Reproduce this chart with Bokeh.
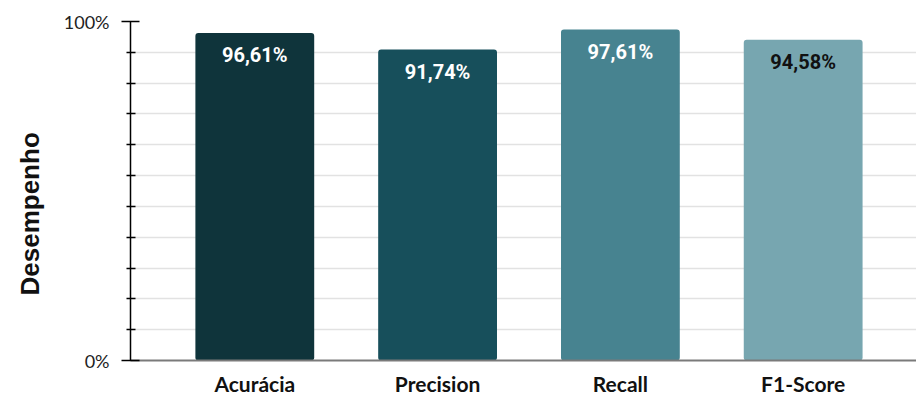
from bokeh.core.properties import value
from bokeh.embed import file_html
from bokeh.models import ColumnDataSource, FixedTicker, Range1d, Title
from bokeh.plotting import figure
from bokeh.resources import INLINE

# Model performance metrics (percent)
metrics = ["Acurácia", "Precision", "Recall", "F1-Score"]
scores = [96.61, 91.74, 97.61, 94.58]

# y-axis labels and tick grid
y_tick_labels = {0: "0%", 100: "100%"}
y_minor_steps = 11

bar_colors = ["#0f343b", "#174f5b", "#478390", "#77a6b0"]
text_colors = ["#ffffff", "#ffffff", "#ffffff", "#111111"]

xs = [i + 0.5 for i in range(len(metrics))]
labels = [f"{v:.2f}%".replace(".", ",") for v in scores]

source = ColumnDataSource(dict(
    x=xs, top=scores, color=bar_colors, label=labels, tcolor=text_colors,
))

p = figure(
    width=916, height=399,
    output_backend="svg", toolbar_location=None,
    x_range=Range1d(-0.18, 4.12),
    y_range=Range1d(0, 100),
    min_border_left=129, min_border_right=0,
    min_border_top=21, min_border_bottom=39,
)
p.outline_line_color = None
p.background_fill_color = "white"
p.border_fill_color = "white"

# bars
p.vbar(x="x", top="top", width=0.65, bottom=0, source=source,
       fill_color="color", line_color=None, border_radius=3)

# value labels inside the bars
p.text(x="x", y="top", text="label", source=source,
       text_color="tcolor", text_align="center", text_baseline="top",
       y_offset=10, text_font=value("Roboto"), text_font_style="bold",
       text_font_size="20px")

# y axis
minor = [100 * i / y_minor_steps for i in range(1, y_minor_steps)]
p.yaxis.ticker = FixedTicker(ticks=list(y_tick_labels.keys()), minor_ticks=minor)
p.yaxis.major_label_overrides = y_tick_labels
p.yaxis.axis_line_color = "black"
p.yaxis.axis_line_width = 1.5
p.yaxis.major_tick_line_color = "black"
p.yaxis.major_tick_line_width = 1.5
p.yaxis.major_tick_out = 9
p.yaxis.major_tick_in = 9
p.yaxis.minor_tick_line_color = "black"
p.yaxis.minor_tick_line_width = 1.5
p.yaxis.minor_tick_out = 4
p.yaxis.minor_tick_in = 5
p.yaxis.major_label_standoff = 12
p.yaxis.major_label_text_font = "Lato"
p.yaxis.major_label_text_font_size = "18px"
p.yaxis.major_label_text_color = "#222222"

p.ygrid.grid_line_color = "#e2e2e2"
p.ygrid.grid_line_width = 1.5
p.ygrid.minor_grid_line_color = "#e2e2e2"
p.ygrid.minor_grid_line_width = 1.5
p.xgrid.grid_line_color = None

# x axis
p.xaxis.ticker = FixedTicker(ticks=xs)
p.xaxis.major_label_overrides = {x: m for x, m in zip(xs, metrics)}
p.xaxis.axis_line_color = "#7a7a7a"
p.xaxis.axis_line_width = 2
p.xaxis.major_tick_line_color = None
p.xaxis.minor_tick_line_color = None
p.xaxis.major_tick_out = 0
p.xaxis.major_tick_in = 0
p.xaxis.major_label_standoff = 10
p.xaxis.major_label_text_font = "Lato"
p.xaxis.major_label_text_font_style = "bold"
p.xaxis.major_label_text_font_size = "21px"
p.xaxis.major_label_text_color = "#111111"

# y axis title as a side title in the left panel
p.add_layout(Title(text="Desempenho", align="left", vertical_align="top",
                   offset=65, standoff=28,
                   text_font="Liberation Sans", text_font_style="bold",
                   text_font_size="26px", text_color="#111111"), "left")

open("out.html", "w").write(file_html(p, INLINE))
